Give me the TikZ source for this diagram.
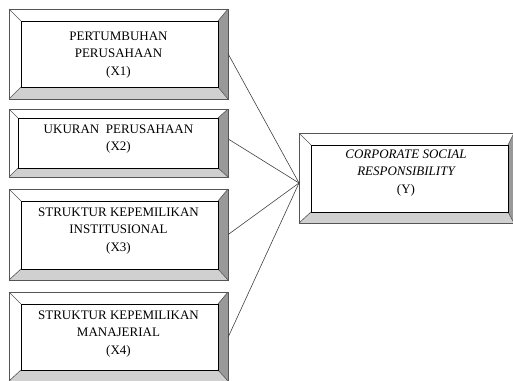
\documentclass[tikz,border=0pt]{standalone}
\usepackage{fontspec}
\setmainfont{Liberation Serif}
\definecolor{bevdark}{HTML}{999999}
\definecolor{bevlight}{HTML}{D0D0D0}
\definecolor{edgegray}{HTML}{555555}
\tikzset{
  boxtext/.style={align=center, font=\fontsize{13}{17.8}\selectfont, inner sep=0pt, text=black},
  shell/.style={inner sep=0pt, draw=none},
  link/.style={draw=black!75, line width=0.6pt},
}
% #1 name, #2 x1, #3 y1, #4 x2, #5 y2, #6 bevel left/top, #7 bevel right, #8 bevel bottom
\newcommand\bevelbox[8]{%
  \node[shell, minimum width={(#4)-(#2)}, minimum height={(#5)-(#3)}] (#1) at ({((#2)+(#4))/2},{((#3)+(#5))/2}) {};
  \fill[white] (#2,#3) -- (#4,#3) -- (#4-#7,#3+#6) -- (#2+#6,#3+#6) -- cycle;
  \fill[white] (#2,#3) -- (#2+#6,#3+#6) -- (#2+#6,#5-#8) -- (#2,#5) -- cycle;
  \fill[bevdark] (#4,#3) -- (#4,#5) -- (#4-#7,#5-#8) -- (#4-#7,#3+#6) -- cycle;
  \fill[bevlight] (#2,#5) -- (#4,#5) -- (#4-#7,#5-#8) -- (#2+#6,#5-#8) -- cycle;
  \draw[edgegray, line width=0.6pt] (#2,#3) -- (#2+#6,#3+#6) (#4,#3) -- (#4-#7,#3+#6)
     (#4,#5) -- (#4-#7,#5-#8) (#2,#5) -- (#2+#6,#5-#8);
  \draw[edgegray, line width=0.9pt] (#2,#3) rectangle (#4,#5);
  \draw[black, line width=0.9pt] (#2+#6,#3+#6) rectangle (#4-#7,#5-#8);
}
\begin{document}
\begin{tikzpicture}[x=1pt, y=-1pt]
\useasboundingbox (0,0) rectangle (513,380);
\bevelbox{b1}{9}{9}{228}{99}{12}{10}{12}
\bevelbox{b2}{9}{109}{228}{177}{9}{10}{9}
\bevelbox{b3}{9}{189}{228}{280}{12}{10}{11}
\bevelbox{b4}{9}{292}{228}{381}{12}{10}{11}
\bevelbox{y}{299}{133}{514}{223}{12}{6}{11}
\node[boxtext] (t1) at (118.5,55) {PERTUMBUHAN\\PERUSAHAAN\\(X1)};
\node[boxtext] (t2) at (118.5,139) {UKURAN\ \ PERUSAHAAN\\(X2)};
\node[boxtext] (t3) at (118.5,231) {STRUKTUR KEPEMILIKAN\\INSTITUSIONAL\\(X3)};
\node[boxtext] (t4) at (118.5,334) {STRUKTUR KEPEMILIKAN\\MANAJERIAL\\(X4)};
\node[boxtext] (ty) at (406,173) {\itshape CORPORATE SOCIAL\\\itshape RESPONSIBILITY\\(Y)};
\coordinate (conv) at (299,183);
\draw[link] (b1.east) -- (conv);
\draw[link] ([yshift=4pt]b2.east) -- (conv);
\draw[link] (b3.east) -- (conv);
\draw[link] ([yshift=-0.5pt]b4.east) -- (conv);
\end{tikzpicture}
\end{document}
